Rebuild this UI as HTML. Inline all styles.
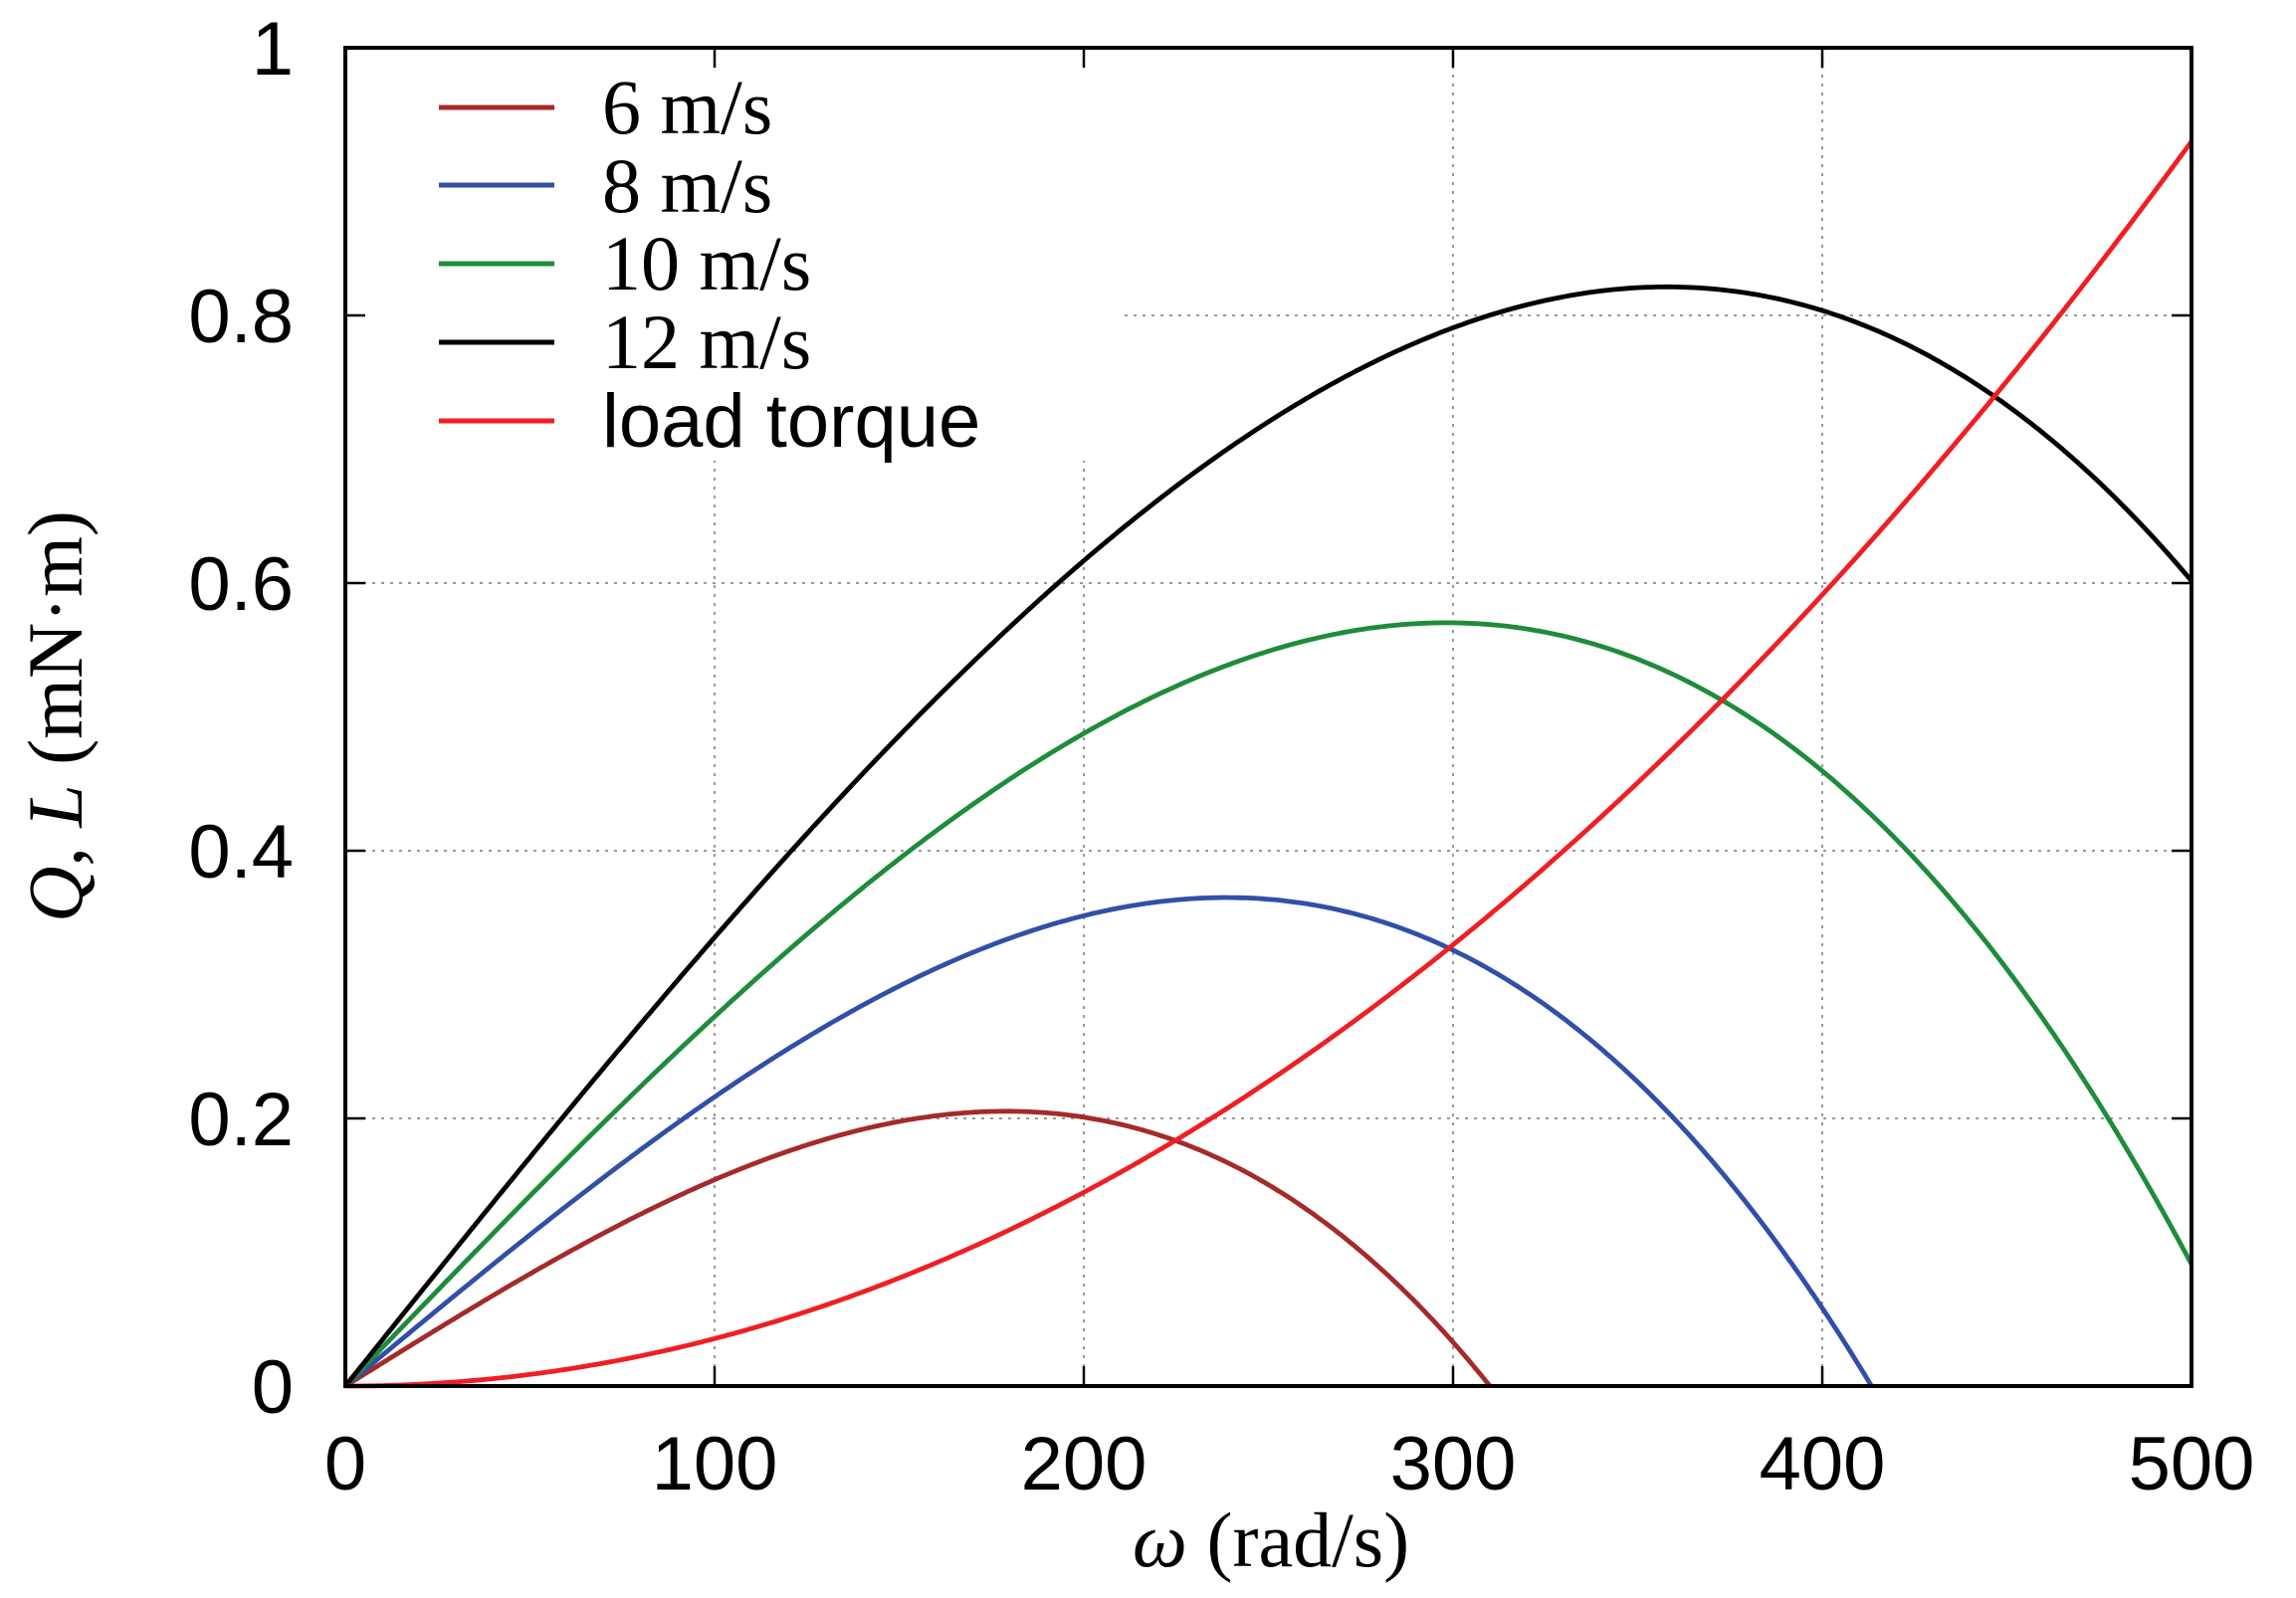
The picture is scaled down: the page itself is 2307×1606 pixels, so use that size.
<!DOCTYPE html>
<html><head><meta charset="utf-8"><style>
html,body{margin:0;padding:0;background:#fff;}
svg{display:block;}
.t{font-family:"Liberation Sans",sans-serif;font-size:76px;fill:#000;}
.s{font-family:"Liberation Serif",serif;font-size:78px;fill:#000;}
</style></head><body>
<svg id="c" width="2307" height="1606" viewBox="0 0 2307 1606" xmlns="http://www.w3.org/2000/svg">
<rect width="2307" height="1606" fill="#fff"/>
<g id="grid" stroke="#999" stroke-width="2" stroke-dasharray="3,6"></g>
<rect x="349" y="50" width="776" height="413" fill="#fff"/>
<g id="curves" fill="none" stroke-width="4.8" stroke-linejoin="round"></g>
<g id="ticks" stroke="#000" stroke-width="2.5"></g>
<rect x="347" y="48" width="1855" height="1345" fill="none" stroke="#000" stroke-width="4"/>
<g id="labels"></g>
<g stroke-width="5">
<line x1="441" y1="108" x2="557" y2="108" stroke="#a52a2a"/>
<line x1="441" y1="186" x2="557" y2="186" stroke="#3050a8"/>
<line x1="441" y1="265" x2="557" y2="265" stroke="#1e8c3a"/>
<line x1="441" y1="344" x2="557" y2="344" stroke="#000"/>
<line x1="441" y1="423" x2="557" y2="423" stroke="#f01e23"/>
</g>
<text class="s" x="605" y="134">6 m/s</text>
<text class="s" x="605" y="213">8 m/s</text>
<text class="s" x="605" y="291">10 m/s</text>
<text class="s" x="605" y="370">12 m/s</text>
<text class="t" x="605" y="449">load torque</text>
<text class="s" x="1277" y="1574" text-anchor="middle"><tspan font-style="italic">ω</tspan> (rad/s)</text>
<text class="s" transform="translate(82,720) rotate(-90)" text-anchor="middle"><tspan font-style="italic">Q</tspan>, <tspan font-style="italic">L</tspan> (mN·m)</text>
</svg>
<script>
const NS="http://www.w3.org/2000/svg";
const X=w=>347+w*3.71, Y=q=>1393-q*1345;
function el(p,t,a,txt){const e=document.createElementNS(NS,t);for(const k in a)e.setAttribute(k,a[k]);if(txt!=null)e.textContent=txt;document.getElementById(p).appendChild(e);}
for(let i=1;i<=4;i++){el("grid","line",{x1:X(i*100),y1:48,x2:X(i*100),y2:1393});el("grid","line",{x1:347,y1:Y(i*0.2),x2:2202,y2:Y(i*0.2)});}
for(let i=0;i<=5;i++){const x=X(i*100);el("ticks","line",{x1:x,y1:1393,x2:x,y2:1373});el("ticks","line",{x1:x,y1:48,x2:x,y2:68});
el("labels","text",{class:"t",x:x,y:1497,"text-anchor":"middle"},String(i*100));
const y=Y(i*0.2);el("ticks","line",{x1:347,y1:y,x2:367,y2:y});el("ticks","line",{x1:2202,y1:y,x2:2182,y2:y});
el("labels","text",{class:"t",x:295,y:y+27,"text-anchor":"end"},i==0?"0":i==5?"1":(i*0.2).toFixed(1));}
const c6=0.2065/(180*2/3);
function rotor(V,col){const w0=310*V/6,c=c6*V/6;let p=[];const wm=Math.min(500,w0);for(let k=0;k<=400;k++){const w=wm*k/400;p.push(X(w).toFixed(1)+","+Y(c*w*(1-(w/w0)**2)).toFixed(1));}el("curves","polyline",{points:p.join(" "),stroke:col});}
rotor(6,"#a52a2a");rotor(8,"#3050a8");rotor(10,"#1e8c3a");rotor(12,"#000");
let p=[];for(let k=0;k<=400;k++){const w=500*k/400;p.push(X(w).toFixed(1)+","+Y(0.93*(w/500)**2.03).toFixed(1));}
el("curves","polyline",{points:p.join(" "),stroke:"#f01e23"});
</script>
</body></html>
